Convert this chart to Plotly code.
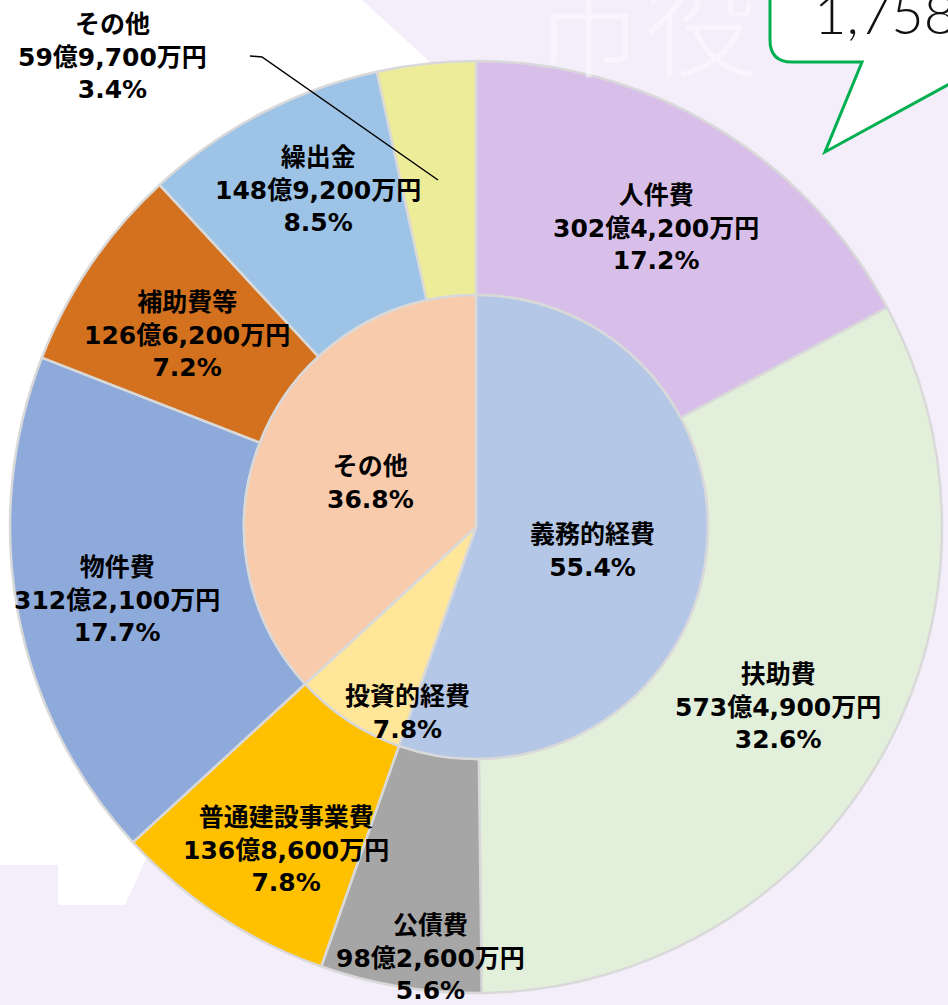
import plotly.graph_objects as go

W, H = 948, 1005

# ---------------- data ----------------
outer_labels = ["人件費", "扶助費", "公債費", "普通建設事業費", "物件費", "補助費等", "繰出金", "その他"]
outer_values_man = [3024200, 5734900, 982600, 1368600, 3122100, 1266200, 1489200, 599700]  # 万円
outer_pct = [17.2, 32.6, 5.6, 7.8, 17.7, 7.2, 8.5, 3.4]
outer_colors = ["#d8bfea", "#e2efda", "#a6a6a6", "#ffc000", "#8eaadb", "#d3711f", "#9dc3e6", "#eded99"]

inner_labels = ["義務的経費", "投資的経費", "その他"]
inner_values_man = [9741700, 1368600, 6477200]
inner_pct = [55.4, 7.8, 36.8]
inner_colors = ["#b4c7e7", "#ffe699", "#f8cbad"]

total_label = "1,758"

# ---------------- layout helpers ----------------
CX, CY, R_OUT, R_IN = 476, 527, 466, 232

def px(x):
    return x / W

def py(y):
    return 1 - y / H

def fmt_yen(v):
    oku, man = divmod(v, 10000)
    return f"{oku}億{man:,}万円"

outer_label_pos = [(656, 228), (778, 707), (430, 958), (286, 850), (117, 600), (187, 335), (318, 190), (112, 57)]
inner_label_pos = [(592, 551), (407, 713), (370, 483)]

fig = go.Figure()

fig.add_trace(go.Pie(
    labels=outer_labels, values=outer_values_man, sort=False, direction="clockwise", rotation=0,
    hole=R_IN / R_OUT,
    marker=dict(colors=outer_colors, line=dict(color="#d9d9d9", width=2.5)),
    textinfo="none", hoverinfo="skip", showlegend=False,
    domain=dict(x=[px(CX - R_OUT), px(CX + R_OUT)], y=[py(CY + R_OUT), py(CY - R_OUT)]),
))
fig.add_trace(go.Pie(
    labels=inner_labels, values=inner_values_man, sort=False, direction="clockwise", rotation=0,
    marker=dict(colors=inner_colors, line=dict(color="#d9d9d9", width=2.5)),
    textinfo="none", hoverinfo="skip", showlegend=False,
    domain=dict(x=[px(CX - R_IN), px(CX + R_IN)], y=[py(CY + R_IN), py(CY - R_IN)]),
))

label_font = dict(family="DejaVu Sans, Noto Sans CJK JP", size=25, color="black", weight="bold")
annotations = []
for lab, v, p, (x, y) in zip(outer_labels, outer_values_man, outer_pct, outer_label_pos):
    annotations.append(dict(x=px(x), y=py(y), xref="paper", yref="paper", showarrow=False,
                            text=f"{lab}<br>{fmt_yen(v)}<br>{p}%", align="center",
                            xanchor="center", yanchor="middle", font=label_font))
for lab, p, (x, y) in zip(inner_labels, inner_pct, inner_label_pos):
    annotations.append(dict(x=px(x), y=py(y), xref="paper", yref="paper", showarrow=False,
                            text=f"{lab}<br>{p}%", align="center",
                            xanchor="center", yanchor="middle", font=label_font))

# faint background lettering
annotations.append(dict(x=px(645), y=py(20), xref="paper", yref="paper", showarrow=False,
                        text="市役", xanchor="center", yanchor="middle",
                        font=dict(family="Noto Sans CJK JP", size=112, color="rgba(255,255,255,0.45)", weight=300)))
# callout text
annotations.append(dict(x=px(812), y=py(12), xref="paper", yref="paper", showarrow=False,
                        text=total_label, xanchor="left", yanchor="middle",
                        font=dict(family="Lato, Noto Sans", size=56, color="#111", weight=300)))

def path(points, close=True):
    s = "M " + " L ".join(f"{px(x):.5f},{py(y):.5f}" for x, y in points)
    return s + (" Z" if close else "")

shapes = [
    # white background region (upper left)
    dict(type="path", xref="paper", yref="paper", layer="below", line=dict(width=0), fillcolor="white",
         path=path([(0, 0), (362, 0), (432, 64), (476, 300), (150, 850), (125, 905), (58, 905), (58, 865), (0, 865)])),
    # speech bubble
    dict(type="path", xref="paper", yref="paper", layer="above", fillcolor="white",
         line=dict(color="#00b050", width=3),
         path=(f"M {px(770):.5f},{py(-20):.5f} L {px(770):.5f},{py(40):.5f} "
               f"Q {px(770):.5f},{py(62):.5f} {px(792):.5f},{py(62):.5f} "
               f"L {px(862):.5f},{py(62):.5f} L {px(825):.5f},{py(152):.5f} "
               f"L {px(975):.5f},{py(70):.5f} L {px(975):.5f},{py(-20):.5f} Z")),
    # leader line for small slice
    dict(type="path", xref="paper", yref="paper", layer="above", line=dict(color="black", width=1.5),
         path=path([(250, 56), (262, 57), (438, 180)], close=False)),
]

fig.update_layout(
    width=W, height=H, margin=dict(l=0, r=0, t=0, b=0),
    paper_bgcolor="#f3eefa", plot_bgcolor="#f3eefa",
    annotations=annotations, shapes=shapes,
)

fig.write_html("out.html", config={"displayModeBar": False},
               post_script="document.body.style.margin='0';document.body.style.overflow='hidden';")
